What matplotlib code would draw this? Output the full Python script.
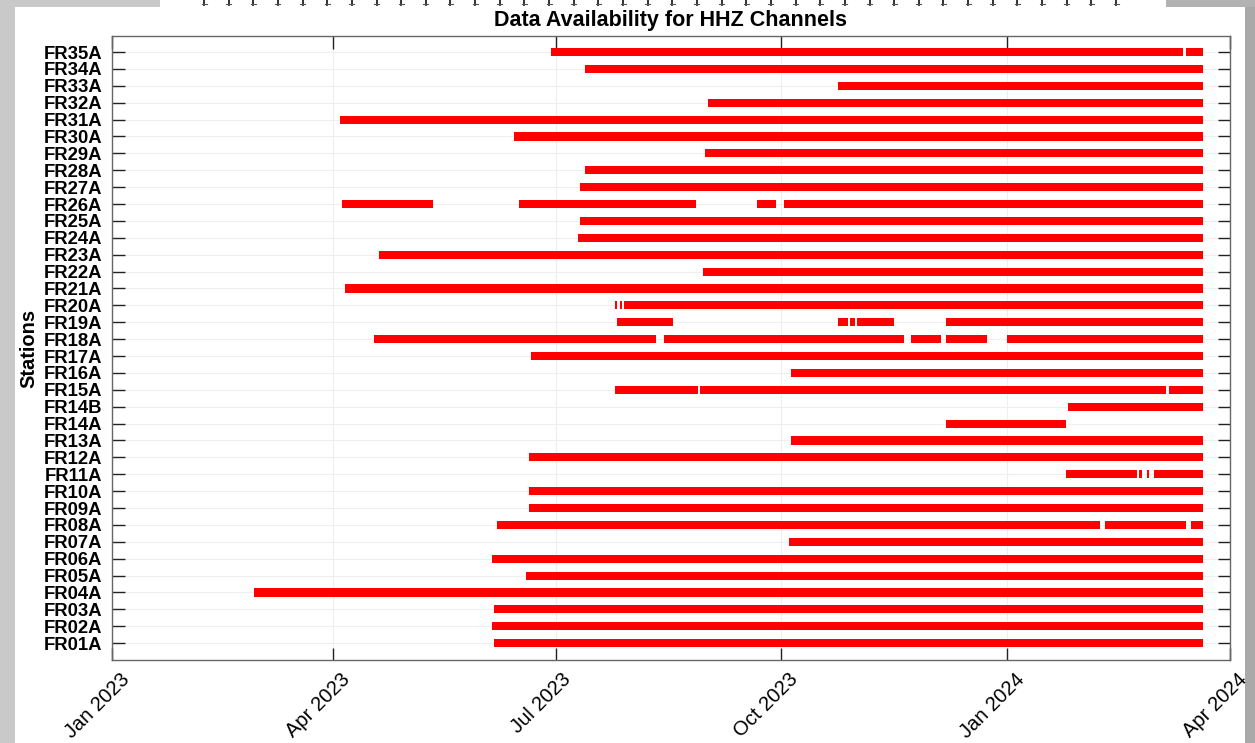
import matplotlib
matplotlib.use("Agg")
import matplotlib.pyplot as plt
import matplotlib.dates as mdates
from matplotlib.patches import Rectangle
from matplotlib.lines import Line2D
import matplotlib.transforms as mtransforms
import numpy as np
from datetime import datetime

plt.rcParams['font.family'] = ['Liberation Sans', 'DejaVu Sans']

# ---------------- data ----------------
stations = ["FR01A", "FR02A", "FR03A", "FR04A", "FR05A", "FR06A", "FR07A", "FR08A",
            "FR09A", "FR10A", "FR11A", "FR12A", "FR13A", "FR14A", "FR14B", "FR15A",
            "FR16A", "FR17A", "FR18A", "FR19A", "FR20A", "FR21A", "FR22A", "FR23A",
            "FR24A", "FR25A", "FR26A", "FR27A", "FR28A", "FR29A", "FR30A", "FR31A",
            "FR32A", "FR33A", "FR34A", "FR35A"]

END = "2024-03-21"
segments = {
    "FR01A": [("2023-06-06", END)],
    "FR02A": [("2023-06-05", END)],
    "FR03A": [("2023-06-06", END)],
    "FR04A": [("2023-02-28", END)],
    "FR05A": [("2023-06-19", END)],
    "FR06A": [("2023-06-05", END)],
    "FR07A": [("2023-10-04", END)],
    "FR08A": [("2023-06-07", "2024-02-08"), ("2024-02-10", "2024-03-14"), ("2024-03-16", END)],
    "FR09A": [("2023-06-20", END)],
    "FR10A": [("2023-06-20", END)],
    "FR11A": [("2024-01-25", "2024-02-23"), ("2024-02-24", "2024-02-25"),
              ("2024-02-27", "2024-02-28"), ("2024-03-01", END)],
    "FR12A": [("2023-06-20", END)],
    "FR13A": [("2023-10-05", END)],
    "FR14A": [("2023-12-07", "2024-01-25")],
    "FR14B": [("2024-01-26", END)],
    "FR15A": [("2023-07-25", "2023-08-28"), ("2023-08-29", "2024-03-06"), ("2024-03-07", END)],
    "FR16A": [("2023-10-05", END)],
    "FR17A": [("2023-06-21", END)],
    "FR18A": [("2023-04-18", "2023-08-11"), ("2023-08-14", "2023-11-20"),
              ("2023-11-23", "2023-12-05"), ("2023-12-07", "2023-12-24"),
              ("2024-01-01", END)],
    "FR19A": [("2023-07-26", "2023-08-18"), ("2023-10-24", "2023-10-28"),
              ("2023-10-29", "2023-10-31"), ("2023-11-01", "2023-11-16"),
              ("2023-12-07", END)],
    "FR20A": [("2023-07-25", "2023-07-26"), ("2023-07-27", "2023-07-28"), ("2023-07-29", END)],
    "FR21A": [("2023-04-06", END)],
    "FR22A": [("2023-08-30", END)],
    "FR23A": [("2023-04-20", END)],
    "FR24A": [("2023-07-10", END)],
    "FR25A": [("2023-07-11", END)],
    "FR26A": [("2023-04-05", "2023-05-12"), ("2023-06-16", "2023-08-27"),
              ("2023-09-21", "2023-09-29"), ("2023-10-02", END)],
    "FR27A": [("2023-07-11", END)],
    "FR28A": [("2023-07-13", END)],
    "FR29A": [("2023-08-31", END)],
    "FR30A": [("2023-06-14", END)],
    "FR31A": [("2023-04-04", END)],
    "FR32A": [("2023-09-01", END)],
    "FR33A": [("2023-10-24", END)],
    "FR34A": [("2023-07-13", END)],
    "FR35A": [("2023-06-29", "2024-03-13"), ("2024-03-14", END)],
}

tick_dates = ["2023-01-01", "2023-04-01", "2023-07-01", "2023-10-01", "2024-01-01", "2024-04-01"]
tick_labels = ["Jan 2023", "Apr 2023", "Jul 2023", "Oct 2023", "Jan 2024", "Apr 2024"]

# ---------------- figure ----------------
W, H = 1255, 743
fig = plt.figure(figsize=(W / 100, H / 100), dpi=100)
fig.patch.set_facecolor("white")

def px_rect(x0, y0, x1, y1, color):
    fig.patches.append(Rectangle((x0 / W, 1 - y1 / H), (x1 - x0) / W, (y1 - y0) / H,
                                 transform=fig.transFigure, facecolor=color,
                                 edgecolor="none", zorder=-10))

# surrounding gray frame (screenshot border)
px_rect(0, 0, 15, H, "#c9c9c9")
px_rect(1245, 0, W, H, "#a9a9a9")
px_rect(0, 0, 160, 7, "#c9c9c9")
px_rect(1166, 0, W, 7, "#b2b2b2")
# remnants of tick marks at the very top
for xm in np.linspace(204, 1116, 38):
    fig.lines.append(Line2D([xm / W, xm / W], [1 - 0 / H, 1 - 5 / H],
                            transform=fig.transFigure, color="#222222", lw=1.3))
    fig.lines.append(Line2D([(xm - 2.5) / W, (xm + 2.5) / W], [1 - 4 / H, 1 - 4 / H],
                            transform=fig.transFigure, color="#555555", lw=0.8))

ax = fig.add_axes([112 / W, 1 - 660 / H, (1230 - 112) / W, (660 - 36) / H])

ypos = {s: i + 1 for i, s in enumerate(stations)}
bar_h = 0.48
for s in stations:
    segs = segments.get(s, [])
    if not segs:
        continue
    xr = []
    for a, b in segs:
        da = mdates.date2num(datetime.fromisoformat(a))
        db = mdates.date2num(datetime.fromisoformat(b))
        xr.append((da, db - da))
    ax.broken_barh(xr, (ypos[s] - bar_h / 2, bar_h), facecolors="#ff0000",
                   edgecolor="none", zorder=3)

xt = [mdates.date2num(datetime.fromisoformat(d)) for d in tick_dates]
ax.set_xlim(xt[0], xt[-1])
ax.set_ylim(0.0, 36.95)
ax.set_xticks(xt)
ax.set_xticklabels(tick_labels, rotation=45, ha="center", va="top", fontsize=14.5)
ax.set_yticks([ypos[s] for s in stations])
ax.set_yticklabels(stations, fontsize=13.3, fontweight="bold")

ax.tick_params(axis="both", direction="in", length=9, width=1, color="#222222",
               top=True, right=True)
ax.tick_params(axis="x", pad=7)
ax.tick_params(axis="y", pad=7)
offset = mtransforms.ScaledTranslation(-15 / 100, 0, fig.dpi_scale_trans)
for lab in ax.get_xticklabels():
    lab.set_transform(lab.get_transform() + offset)

ax.grid(True, color="#efefef", lw=0.8, zorder=0)
ax.set_axisbelow(True)
for sp in ax.spines.values():
    sp.set_color("#666666")
    sp.set_linewidth(1.0)

ax.set_title("Data Availability for HHZ Channels", fontsize=15.5, fontweight="bold", pad=7)
ax.set_ylabel("Stations", fontsize=14.5, fontweight="bold", labelpad=4)

fig.savefig("out.png", dpi=100)
